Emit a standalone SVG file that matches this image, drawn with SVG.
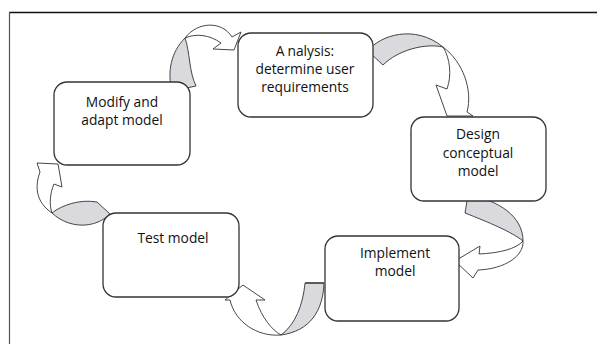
<svg xmlns="http://www.w3.org/2000/svg" width="597" height="344" viewBox="0 0 597 344">
<style>
.box{fill:#fff;stroke:#333;stroke-width:1.3}
.t{font-family:"Open Sans","Noto Sans",sans-serif;font-size:13.8px;fill:#111;text-anchor:middle}
.g{fill:#d9d9de;stroke:#333;stroke-width:0.9;stroke-linejoin:round}
.w{fill:#fff;stroke:#333;stroke-width:0.9;stroke-linejoin:miter}
</style>
<rect width="597" height="344" fill="#fff"/>
<g id="frame" fill="none">
<line x1="9" y1="12.5" x2="597" y2="12.5" stroke="#111" stroke-width="1.4"/>
<line x1="9.5" y1="12" x2="9.5" y2="344" stroke="#555" stroke-width="1.2"/>
</g>
<g id="connectors">
<g id="arrow1">
<path class="g" d="M172,91 C167,72 171,52 185,38 C190,52 189,72 196,86 Z"/>
<path class="w" d="M185,38 C198,21 222,21 232,37 L241,32 L234,50 L213,49 L221,43 C210,35 196,33 185,38 Z"/>
</g>
<g id="arrow2">
<path class="g" d="M368,51 C380,35 415,24 443,47 C425,43 398,50 383,65 Z"/>
<path class="w" d="M443,47 C463,62 473,90 467,112 L473,116 L447,116 L436,85 L447,89 C452,75 450,58 443,47 Z"/>
</g>
<g id="arrow3">
<path class="g" d="M468,195 C498,200 523,216 523,241 C512,232 488,222 465,213 Z"/>
<path class="w" d="M523,241 C524,256 505,269 478,270 L473,278 L455,261 L480,246 L479,254 C500,253 516,249 523,241 Z"/>
</g>
<g id="arrow4">
<path class="g" d="M305,283 L324,283 C323,311 310,331 281,335 C295,325 303,305 305,283 Z"/>
<line x1="305" y1="283" x2="324" y2="283" stroke="#555" stroke-width="1.8"/>
<path class="w" d="M281,335 C257,337 235,322 230,300 L225,300 L243,285 L265,300 L256,300 C262,318 272,330 281,335 Z"/>
</g>
<g id="arrow5">
<path class="g" d="M97,202 L110,214 C95,229 69,229 52,213 C62,205 80,199 97,202 Z"/>
<path class="w" d="M52,213 C37,203 34,188 40,172 L37,163 L58,164 L62,187 L54,184 C50,193 49,205 52,213 Z"/>
</g>
</g>
<g id="analysis">
<rect class="box" x="238" y="33" width="135" height="84" rx="13"/>
<text class="t" x="305" y="56">A<tspan dx="3">nalysis:</tspan></text>
<text class="t" x="305" y="74">determine user</text>
<text class="t" x="305" y="92">requirements</text>
</g>
<g id="design">
<rect class="box" x="411" y="117" width="135" height="84" rx="13"/>
<text class="t" x="478" y="139">Design</text>
<text class="t" x="478" y="158">conceptual</text>
<text class="t" x="478" y="176">model</text>
</g>
<g id="implement">
<rect class="box" x="325" y="236" width="134" height="85" rx="13"/>
<text class="t" x="395" y="258">Implement</text>
<text class="t" x="395" y="276">model</text>
</g>
<g id="test">
<rect class="box" x="103" y="213" width="136" height="84" rx="13"/>
<text class="t" x="173" y="243">Test model</text>
</g>
<g id="modify">
<rect class="box" x="54" y="82" width="136" height="83" rx="13"/>
<text class="t" x="122" y="107">Modify and</text>
<text class="t" x="122" y="125">adapt model</text>
</g>
</svg>
